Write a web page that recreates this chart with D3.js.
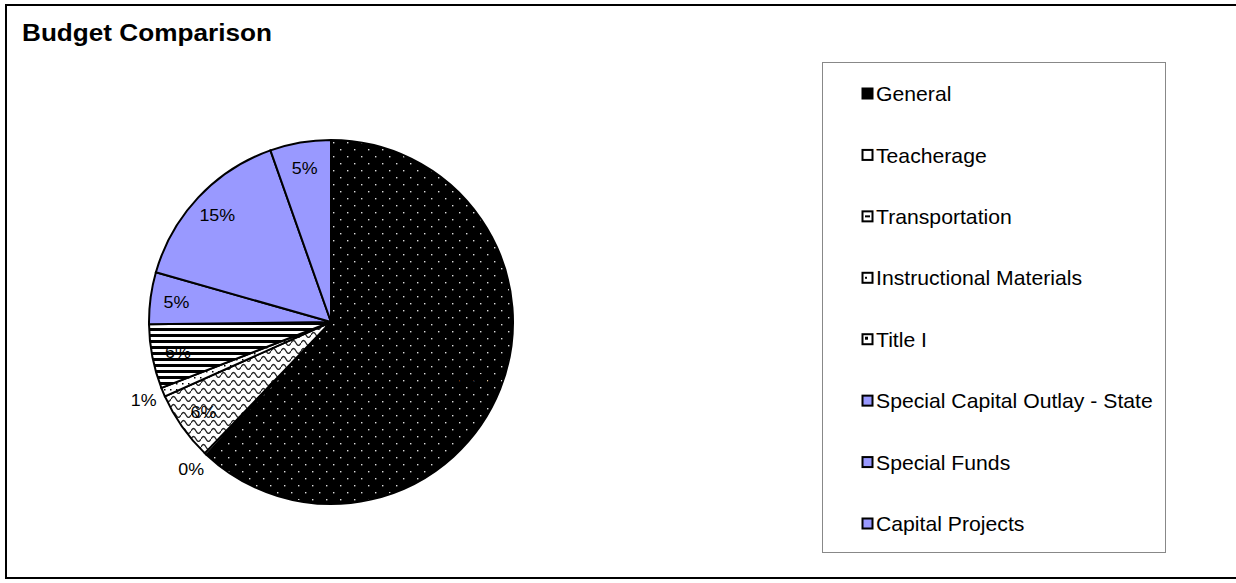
<!DOCTYPE html>
<html lang="en">
<head>
  <meta charset="UTF-8">
  <title>Budget Comparison</title>
  <script src="https://d3js.org/d3.v7.min.js"></script>
  <style>
  body{ margin:0; background:#fff; }
  text{ font-family:"Liberation Sans", Arial, sans-serif; fill:black; }
  .slice{ stroke:black; stroke-width:2; }
  </style>
</head>
<body>
  <div class="container"></div>
  <script>
  // budget shares (percent), clockwise from 12 o'clock
  var funds = ["General","Teacherage","Transportation","Instructional Materials",
               "Title I","Special Capital Outlay - State","Special Funds","Capital Projects"];
  var shares = [62.0, 0.2, 6.1, 0.8, 5.7, 4.6, 15.2, 5.4];
  var fills = ["url(#dots)","#ffffff","url(#scales)","url(#confetti)",
               "url(#stripes)","#9999ff","#9999ff","#9999ff"];

  var w = 1236, h = 583;
  var cx = 331, cy = 322, r = 182;

  var svg = d3.select('.container')
          .append('svg')
          .attr("width", w)
          .attr("height", h);

  // patterns
  var defs = svg.append('defs');
  var p1 = defs.append('pattern').attr('id','dots')
      .attr('patternUnits','userSpaceOnUse').attr('width',14).attr('height',14);
  p1.append('rect').attr('width',14).attr('height',14).attr('fill','black');
  p1.append('rect').attr('x',2).attr('y',2).attr('width',1.4).attr('height',1.4).attr('fill','#ddd');
  p1.append('rect').attr('x',9).attr('y',9).attr('width',1.4).attr('height',1.4).attr('fill','#ddd');

  var p2 = defs.append('pattern').attr('id','scales')
      .attr('patternUnits','userSpaceOnUse').attr('width',10).attr('height',8);
  p2.append('rect').attr('width',10).attr('height',8).attr('fill','white');
  p2.append('path').attr('d','M0,5 Q2.5,0 5,5 T10,5')
      .attr('fill','none').attr('stroke','#222').attr('stroke-width',1.3);

  var p3 = defs.append('pattern').attr('id','stripes')
      .attr('patternUnits','userSpaceOnUse').attr('width',8).attr('height',6);
  p3.append('rect').attr('width',8).attr('height',6).attr('fill','white');
  p3.append('rect').attr('y',0).attr('width',8).attr('height',3).attr('fill','black');

  var p4 = defs.append('pattern').attr('id','confetti')
      .attr('patternUnits','userSpaceOnUse').attr('width',6).attr('height',6);
  p4.append('rect').attr('width',6).attr('height',6).attr('fill','white');
  p4.append('rect').attr('x',1).attr('y',1).attr('width',1.5).attr('height',1.5).attr('fill','black');

  // outer frame + title
  svg.append('rect').attr('x',6).attr('y',5).attr('width',w+20).attr('height',573)
     .attr('fill','none').attr('stroke','black').attr('stroke-width',2);
  svg.append('text')
     .attr('transform','translate(22,41) scale(1.09,1)')
     .style('font-size','24px').style('font-weight','bold')
     .text('Budget Comparison');

  // pie
  var pie = d3.pie().sort(null).value(function(d){ return d; });
  var arcs = pie(shares);
  var arc = d3.arc().innerRadius(0).outerRadius(r);
  var g = svg.append('g').attr('transform','translate('+cx+','+cy+')');
  g.selectAll('path').data(arcs).enter().append('path')
     .attr('class','slice')
     .attr('d', arc)
     .attr('fill', function(d,i){ return fills[i]; });

  var inLabel = d3.arc().innerRadius(156).outerRadius(156);
  var outLabel = d3.arc().innerRadius(203).outerRadius(203);
  g.selectAll('text.pct').data(arcs).enter().append('text')
     .attr('class','pct')
     .attr('transform', function(d){
        var a = (d.data < 2 ? outLabel : inLabel).centroid(d);
        return 'translate('+a[0]+','+a[1]+') scale(1.05,1)';
     })
     .attr('text-anchor','middle')
     .attr('dy','0.36em')
     .style('font-size','17px')
     .text(function(d){ return Math.round(d.data)+'%'; });

  // legend
  svg.append('rect').attr('x',822.5).attr('y',62.5).attr('width',343).attr('height',490)
     .attr('fill','white').attr('stroke','#888').attr('stroke-width',1);
  var ly = d3.scalePoint().domain(funds).range([94, 524]);
  var lg = svg.append('g').selectAll('g').data(funds).enter().append('g')
     .attr('transform', function(d){ return 'translate(862,'+ly(d)+')'; });
  lg.append('rect').attr('x',0.5).attr('y',-5.5).attr('width',10).attr('height',10)
     .attr('fill', function(d,i){ return i === 0 ? 'black' : (fills[i].indexOf('url') === 0 ? 'white' : fills[i]); })
     .attr('stroke','black').attr('stroke-width',2);
  // small hint of the slice pattern inside the pattern swatches
  lg.filter(function(d,i){ return i >= 2 && i <= 4; }).append('rect')
     .attr('x',3).attr('y', function(d,i){ return i === 2 ? -3 : -1.5; })
     .attr('width', function(d,i){ return i === 2 ? 3 : (i === 1 ? 2 : 5); })
     .attr('height', function(d,i){ return i === 2 ? 3 : 2; })
     .attr('fill','black');
  lg.append('text')
     .attr('transform','translate(14,0) scale(1.06,1)')
     .attr('dy','0.36em')
     .style('font-size','20px')
     .text(function(d){ return d; });
  </script>
</body>
</html>
